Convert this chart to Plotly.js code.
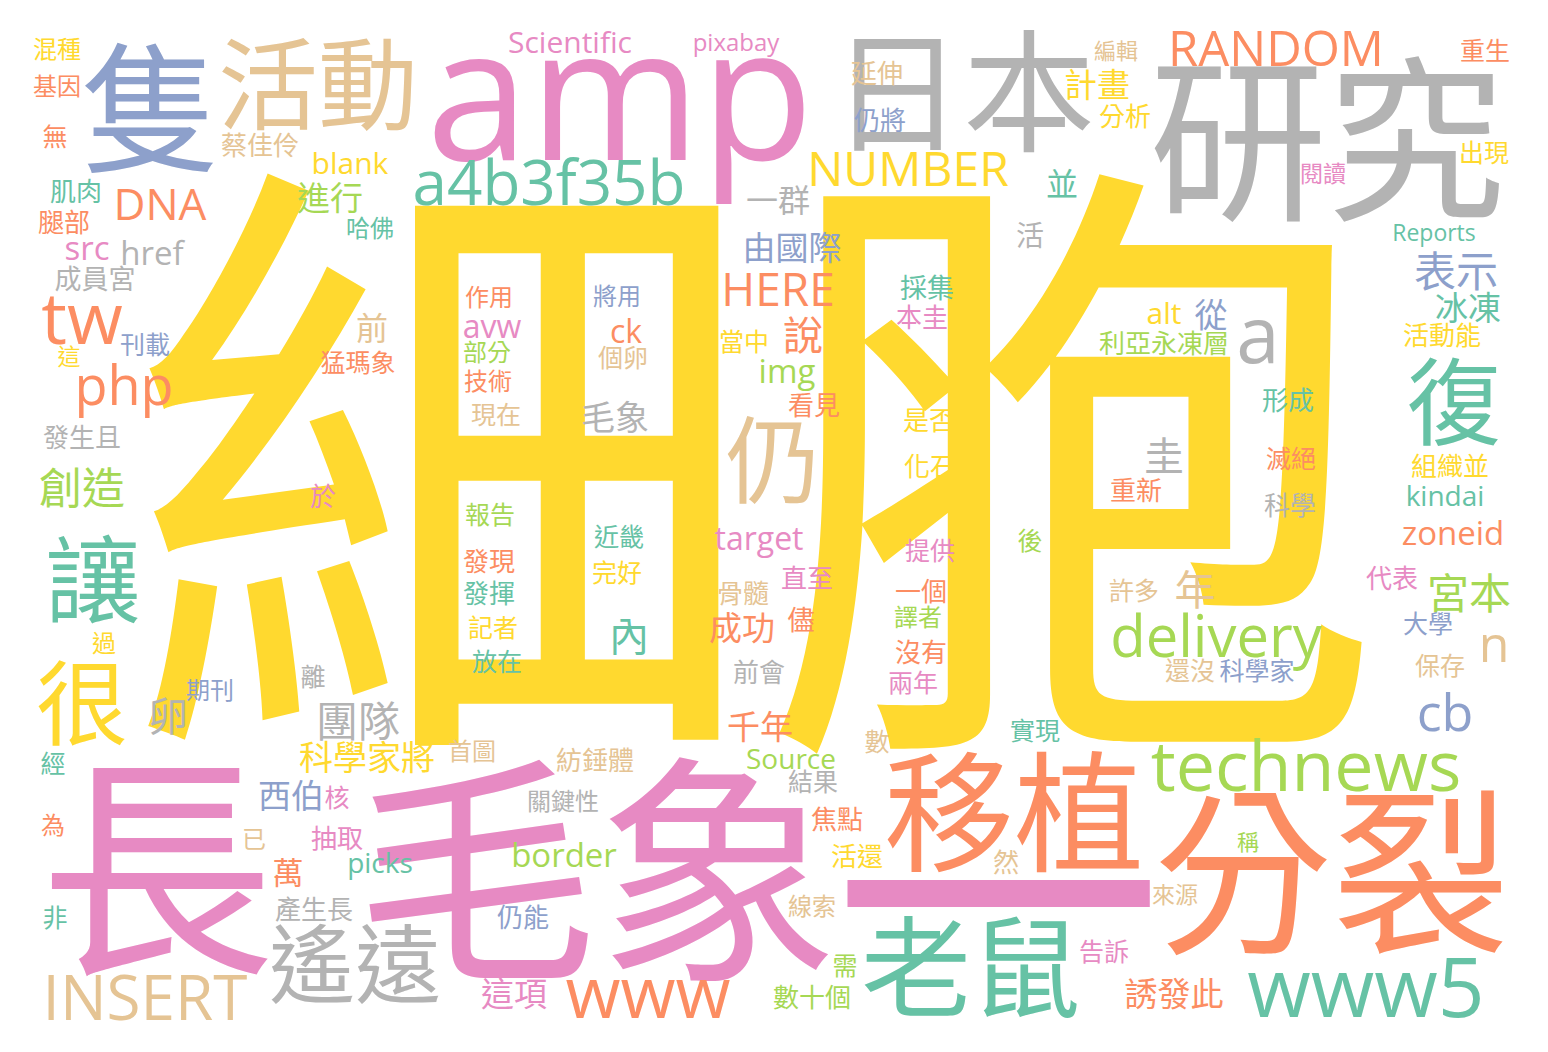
<!DOCTYPE html>
<html>
<head>
<meta charset="utf-8">
<script src="https://cdn.plot.ly/plotly-3.0.1.min.js"></script>
<style>
  html, body { margin: 0; padding: 0; background: #fff; }
  #plot { width: 1548px; height: 1052px; }
</style>
</head>
<body>
<div id="plot"></div>
<script>
// words of the cloud, with where they sit (visual centre, in picture pixels),
// their font size and their colour group
const words = [
  "細胞","長","毛象","一","amp","研究","分裂","隻","日本","移植",
  "老鼠","活動","復","讓","仍","很","遙遠","www5","a","tw",
  "technews","www","INSERT","delivery","a4b3f35b","php","cb","n","RANDOM","創造",
  "表示","宮本","團隊","NUMBER","年","卵","圭","說","內","HERE",
  "DNA","科學家將","毛象","成功","千年","誘發此","這項","由國際","進行","西伯",
  "計畫","冰凍","從","zoneid","border","href","src","img","一群","並",
  "前","avw","ck","target","萬","blank","alt","Scientific","Source","kindai",
  "picks","活","儘","成員宮","採集","蔡佳伶","肌肉","腿部","發現","發揮",
  "延伸","仍將","本圭","看見","是否","化石","直至","骨髓","前會","一個",
  "沒有","分析","活動能","利亞永凍層","形成","重新","科學","組織並","代表","紡錘體",
  "焦點","活還","然","數十個","仍能","抽取","產生長","發生且","於","無",
  "現在","個卵","報告","記者","放在","近畿","完好","當中","提供","兩年",
  "後","重生","出現","滅絕","許多","大學","還沒","科學家","保存","實現",
  "告訴","數","結果","需","經","核","非","刊載","猛瑪象","離",
  "混種","基因","哈佛","作用","部分","技術","將用","譯者","關鍵性","線索",
  "首圖","為","已","過","期刊","pixabay","Reports","閱讀","來源","這",
  "編輯","稱"
];

const wordX = [
  760,157,597,998,620,1327,1332,151,963,1014,
  971,318,1454,93,773,82,355,1366,1258,82,
  1306,648,145,1216,549,124,1445,1494,1276,82,
  1456,1469,358,908,1195,168,1164,803,629,778,
  160,367,615,742,760,1174,514,792,330,291,
  1097,1468,1211,1453,564,152,87,787,778,1062,
  372,492,626,759,288,350,1164,570,791,1445,
  380,1030,801,95,927,260,76,64,489,489,
  877,880,922,814,929,930,807,743,759,921,
  921,1125,1442,1164,1288,1136,1290,1450,1392,595,
  837,857,1006,812,523,337,314,82,323,55,
  496,623,490,493,497,619,617,744,930,913,
  1030,1485,1484,1291,1134,1428,1190,1257,1440,1035,
  1104,877,813,845,53,337,55,145,358,313,
  57,57,370,489,487,488,617,918,563,812,
  472,53,254,104,210,736,1434,1323,1175,69,
  1116,1248
];

const wordY = [
  470,870,872,900,92,141,874,109,92,813,
  968,85,403,581,461,704,965,987,334,317,
  765,992,997,636,182,385,712,643,48,488,
  271,593,721,168,590,716,456,335,636,289,
  204,757,417,628,727,994,994,248,198,796,
  85,308,315,533,855,253,248,371,200,184,
  328,326,331,538,873,163,313,42,759,496,
  863,236,620,279,288,145,191,222,561,593,
  73,120,317,405,420,466,578,593,672,591,
  652,116,335,343,400,490,505,466,578,760,
  819,856,862,997,917,838,909,437,496,137,
  415,358,515,628,662,537,573,342,551,683,
  541,51,153,459,591,624,671,671,666,731,
  952,742,782,966,764,798,918,345,363,677,
  49,86,228,297,352,381,296,617,801,906,
  751,825,839,643,690,42,232,173,894,356,
  51,842
];

const wordSize = [
  632,235,242,330,185,178,178,140,132,130,
  110,100,95,95,95,92,86,82,78,72,
  70,71,62,58,62,54,52,50,49,43,
  42,42,42,48,41,40,40,40,40,46,
  44,34,34,33,33,33,33,33,33,33,
  33,33,33,33,33,33,33,33,32,32,
  32,32,32,32,31,30,30,30,28,28,
  28,28,27,27,27,26,26,26,26,26,
  26,26,26,26,26,26,26,26,26,26,
  26,26,26,26,26,26,26,26,26,26,
  26,26,26,26,26,26,26,26,26,25,
  25,25,25,25,25,25,25,25,25,25,
  25,25,25,25,25,25,25,25,25,25,
  25,25,25,25,25,25,25,25,25,25,
  24,24,24,24,24,24,24,24,24,24,
  24,24,24,24,24,24,23,23,23,23,
  22,22
];

const wordColor = [
  5,3,3,3,3,7,1,2,7,1,
  0,6,0,0,6,5,7,0,7,1,
  4,1,6,4,0,1,2,6,1,4,
  2,4,7,5,6,7,7,1,0,1,
  1,5,7,1,1,1,3,2,4,2,
  5,0,2,1,4,7,3,4,7,0,
  6,3,1,3,1,5,5,3,4,0,
  0,7,1,7,0,6,0,1,1,0,
  6,2,3,1,5,5,3,6,7,1,
  1,5,5,4,0,1,7,5,3,6,
  1,5,6,4,2,3,7,7,3,1,
  6,6,4,5,0,0,5,5,3,3,
  4,1,5,1,6,2,6,2,6,0,
  3,6,7,4,0,3,0,2,1,7,
  5,1,0,1,4,1,2,4,7,6,
  6,1,6,5,2,3,0,3,6,5,
  6,4
];

const palette = ["#66c2a5","#fc8d62","#8da0cb","#e78ac3","#a6d854","#ffd92f","#e5c494","#b3b3b3"];

// plotly puts the baseline a quarter em below the point, nudge so glyphs sit centred
const SHIFT = 0.12;

const cloud = {
    type: "scatter",
    mode: "text",
    x: wordX,
    y: wordY.map((v, i) => v + SHIFT * wordSize[i]),
    text: words,
    textposition: "middle center",
    textfont: {
        family: "Open Sans, Noto Sans CJK TC, sans-serif",
        size: wordSize,
        color: wordColor.map(c => palette[c])
    },
    hoverinfo: "skip",
    showlegend: false
};

Plotly.newPlot("plot", [cloud], {
    width: 1548,
    height: 1052,
    margin: {l: 0, r: 0, t: 0, b: 0},
    paper_bgcolor: "#ffffff",
    plot_bgcolor: "#ffffff",
    xaxis: {range: [0, 1548], visible: false, fixedrange: true},
    yaxis: {range: [1052, 0], visible: false, fixedrange: true},
    hovermode: false
}, {displayModeBar: false, staticPlot: true});
</script>
</body>
</html>
